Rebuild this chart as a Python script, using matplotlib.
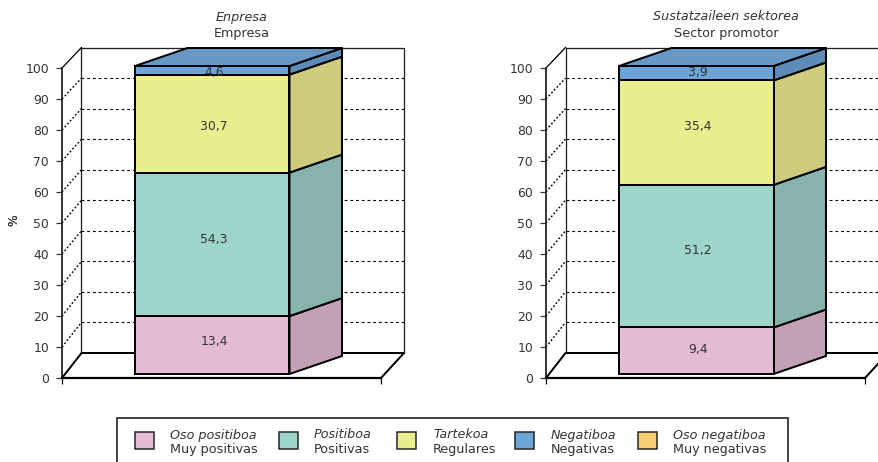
import matplotlib
matplotlib.use("Agg")
import matplotlib.pyplot as plt
from matplotlib.patches import Polygon, Rectangle

# Data (heights as drawn in the bars, printed labels differ in the source chart)
titles_eu = ["Enpresa", "Sustatzaileen sektorea"]
titles_es = ["Empresa", "Sector promotor"]
heights_empresa = [18.8, 46.6, 31.8, 2.8]
heights_sector = [15.1, 46.3, 33.9, 4.7]
labels_empresa = ["13,4", "54,3", "30,7", "4,6"]
labels_sector = ["9,4", "51,2", "35,4", "3,9"]
legend_eu = ["Oso positiboa", "Positiboa", "Tartekoa", "Negatiboa", "Oso negatiboa"]
legend_es = ["Muy positivas", "Positivas", "Regulares", "Negativas", "Muy negativas"]

W, H = 879, 462
front_cols = ["#E3BBD3", "#9DD5CA", "#EAEE8D", "#6CA3D8", "#F7CE73"]
side_cols = ["#C2A1B5", "#88B3AD", "#CCCC7C", "#5E8CB9"]
top_col = "#6798C6"
text_col = "#333333"
px = 0.72  # one pixel in points at dpi 100
fs = 9.2

plt.rcParams["font.family"] = ["DejaVu Sans"]
plt.rcParams["font.size"] = fs

fig = plt.figure(figsize=(W / 100, H / 100), dpi=100)


def fx(x):
    return x / W


def fy(y):
    return 1 - y / H


# Back wall is slightly smaller than the front plane
def back(x, v):
    return 19.5 / 319 + x * 322.5 / 319, 25 / 3.1 + v * 305.5 / 310


def draw_panel(left, title_eu, title_es, heights, labels, label_pos):
    ax = fig.add_axes([fx(left), fy(378), 319 / W, 310 / H])
    ax.set_xlim(0, 1)
    ax.set_ylim(0, 100)
    ax.patch.set_visible(False)
    for s in ["top", "right"]:
        ax.spines[s].set_visible(False)
    ax.spines["left"].set_linewidth(1.8 * px)
    ax.spines["left"].set_color("#222222")
    ax.spines["bottom"].set_linewidth(2.2 * px)
    ax.spines["bottom"].set_color("black")
    ax.set_xticks([0, 1])
    ax.set_xticklabels([])
    ax.set_yticks(range(0, 101, 10))
    ax.tick_params(axis="y", length=4.3, width=1.2 * px, pad=5, colors=text_col, labelsize=8.9)
    ax.tick_params(axis="x", length=4.3, width=1.2 * px, color="black")
    ax.set_ylabel("%", color=text_col, fontsize=8.9, va="center")
    ax.yaxis.set_label_coords((14 - left) / 319, 0.51)

    # walls and floor
    bl, bt = back(0, 0), back(0, 100)
    rb, rt = back(1, 0), back(1, 100)
    ax.plot([bl[0], bt[0], rt[0], rb[0]], [bl[1], bt[1], rt[1], rb[1]], color="#222222", lw=1.3 * px, clip_on=False, zorder=1)
    ax.plot([0, bl[0], rb[0], 1], [0, bl[1], rb[1], 0], color="black", lw=2 * px, clip_on=False, zorder=1)
    ax.plot([0, bt[0]], [100, bt[1]], color="black", lw=1.3 * px, clip_on=False, zorder=1)
    for v in range(10, 100, 10):
        p0, p1 = back(0, v), back(1, v)
        ax.plot([p0[0], p1[0]], [p0[1], p1[1]], color="black", lw=1.1 * px, ls=(0, (2.6, 2.6)), clip_on=False, zorder=1)
        ax.plot([0, p0[0]], [v, p0[1]], color="black", lw=1.4 * px, ls=(0, (1.3, 1.5)), clip_on=False, zorder=1)

    # stacked block
    x0, x1 = 73 / 319, 227.5 / 319
    dx, dy = 52.5 / 319, 5.8
    bottom = 4 / 3.1
    scale = 3.08 / 3.1
    base = bottom
    for i, h in enumerate(heights):
        top = base + h * scale
        ax.add_patch(Polygon([(x1, base), (x1 + dx, base + dy), (x1 + dx, top + dy), (x1, top)],
                             facecolor=side_cols[i], edgecolor="black", lw=2 * px, clip_on=False, zorder=3, joinstyle="round"))
        ax.add_patch(Rectangle((x0, base), x1 - x0, top - base, facecolor=front_cols[i],
                               edgecolor="black", lw=2 * px, clip_on=False, zorder=4))
        base = top
    ax.add_patch(Polygon([(x0, base), (x1, base), (x1 + dx, base + dy), (x0 + dx, base + dy)],
                         facecolor=top_col, edgecolor="black", lw=2 * px, clip_on=False, zorder=3, joinstyle="round"))

    for lab, pos in zip(labels, label_pos):
        ax.text(152 / 319, pos, lab, ha="center", va="center", color=text_col, fontsize=8.9, zorder=5)

    cx = left + 180
    fig.text(fx(cx), fy(17), title_eu, ha="center", va="center", style="italic", color=text_col, fontsize=fs)
    fig.text(fx(cx), fy(33), title_es, ha="center", va="center", color=text_col, fontsize=fs)


draw_panel(62, titles_eu[0], titles_es[0], heights_empresa, labels_empresa, [11.8, 44.8, 81, 98.4])
draw_panel(546, titles_eu[1], titles_es[1], heights_sector, labels_sector, [9.35, 41, 81, 98.7])

# Legend box, cut by the bottom edge of the picture like the original
fig.add_artist(Rectangle((fx(117), fy(463)), 671 / W, 45.5 / H, transform=fig.transFigure,
                         facecolor="white", edgecolor="#333333", lw=1.8 * px))
swatch_x = [135, 279, 397, 515, 638]
text_x = [170.5, 314, 433, 550.5, 673]
for i in range(5):
    fig.add_artist(Rectangle((fx(swatch_x[i]), fy(449)), 19 / W, 17 / H, transform=fig.transFigure,
                             facecolor=front_cols[i], edgecolor="#222222", lw=1.5 * px))
    fig.text(fx(text_x[i]), fy(435), legend_eu[i], ha="left", va="center", style="italic", color=text_col, fontsize=fs)
    fig.text(fx(text_x[i]), fy(449.5), legend_es[i], ha="left", va="center", color=text_col, fontsize=fs)

fig.savefig("out.png", dpi=100)
